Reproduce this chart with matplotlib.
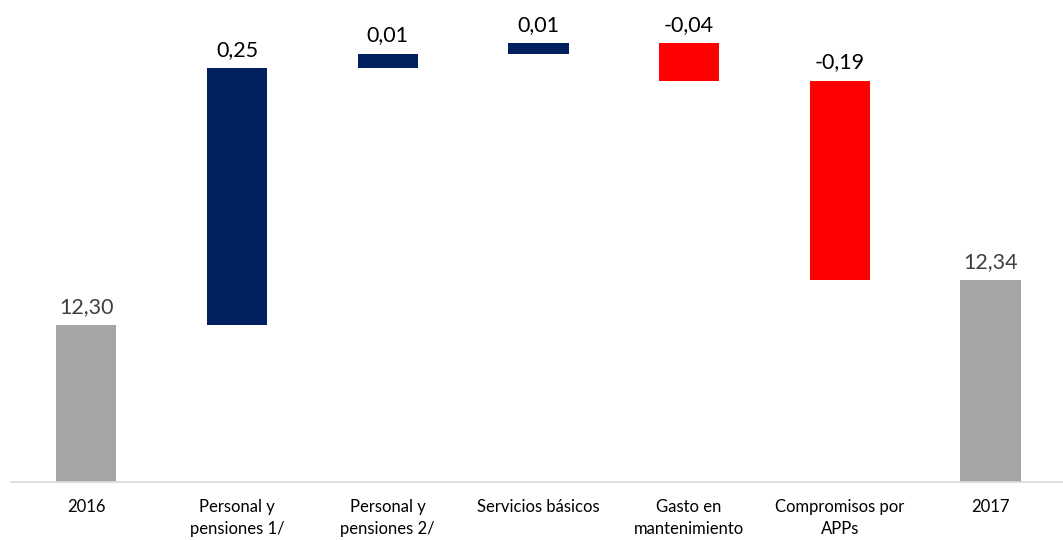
import matplotlib
matplotlib.use("Agg")
from matplotlib import pyplot as plt

categories = ["2016", "Personal y\npensiones 1/", "Personal y\npensiones 2/", "Servicios básicos",
              "Gasto en\nmantenimiento", "Compromisos por\nAPPs", "2017"]
start_value = 12.30
changes = [0.247, 0.014, 0.010, -0.036, -0.192]
end_value = 12.343

plt.rcParams['font.family'] = ['Lato', 'DejaVu Sans']

fig = plt.figure(figsize=(10.63, 5.40), dpi=100)
ax = fig.add_axes([0.0103, 0.107, 0.9925, 0.893])

GREY = "#A5A5A5"
NAVY = "#002060"
RED = "#FF0000"

#Build bottoms and heights of the waterfall (axis does not start at zero)
lo = 12.149
bottoms = [lo]
heights = [start_value - lo]
colors = [GREY]
labels = ["%.2f" % start_value]
running = start_value
for c in changes:
    bottoms.append(min(running, running + c))
    heights.append(abs(c))
    colors.append(NAVY if c >= 0 else RED)
    labels.append("%.2f" % c)
    running += c
bottoms.append(lo)
heights.append(end_value - lo)
colors.append(GREY)
labels.append("%.2f" % end_value)

xs = range(len(categories))
ax.bar(xs, heights, bottom=bottoms, color=colors, width=0.4)

for i in xs:
    top = bottoms[i] + heights[i]
    col = "#404040" if colors[i] == GREY else "black"
    ax.annotate(labels[i].replace(".", ","), (i, top), xytext=(0, 6), textcoords="offset points",
                ha="center", va="bottom", fontsize=15.5, color=col)

ax.set_xlim(-0.5, 6.5)
ax.set_ylim(lo, lo + 482 / 1040.0)
ax.set_xticks(list(xs))
ax.set_xticklabels(categories, fontsize=12, color="black", linespacing=1.5)
ax.tick_params(axis="x", length=0, pad=12)
ax.set_yticks([])
for s in ["top", "right", "left"]:
    ax.spines[s].set_visible(False)
ax.spines["bottom"].set_color("#D9D9D9")
ax.spines["bottom"].set_linewidth(1.2)

plt.savefig("out.png", dpi=100)
